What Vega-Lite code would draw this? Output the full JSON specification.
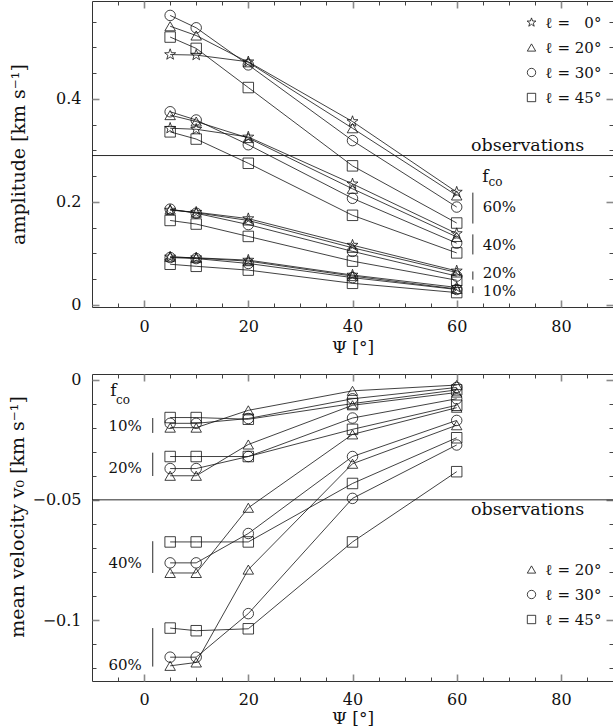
{
  "$schema": "https://vega.github.io/schema/vega-lite/v6.json",
  "background": "white",
  "padding": {"left": 8, "top": -1, "right": 0, "bottom": 0},
  "bounds": "flush",
  "spacing": 67,
  "config": {
    "font": "DejaVu Serif",
    "view": {"stroke": "#333", "strokeWidth": 1},
    "axis": {
      "labelFont": "DejaVu Serif",
      "titleFont": "DejaVu Serif",
      "titleFontWeight": "normal",
      "labelColor": "#111",
      "titleColor": "#111",
      "grid": false,
      "domain": false
    },
    "text": {"font": "DejaVu Serif", "color": "#111"},
    "legend": {"labelFont": "DejaVu Serif", "labelColor": "#111"}
  },
  "datasets": {
    "amp": [
      {"psi": 5, "incl": 0, "fco": 60, "amp": 0.486},
      {"psi": 10, "incl": 0, "fco": 60, "amp": 0.485},
      {"psi": 20, "incl": 0, "fco": 60, "amp": 0.472},
      {"psi": 40, "incl": 0, "fco": 60, "amp": 0.356},
      {"psi": 60, "incl": 0, "fco": 60, "amp": 0.219},
      {"psi": 5, "incl": 20, "fco": 60, "amp": 0.541},
      {"psi": 10, "incl": 20, "fco": 60, "amp": 0.523},
      {"psi": 20, "incl": 20, "fco": 60, "amp": 0.471},
      {"psi": 40, "incl": 20, "fco": 60, "amp": 0.343},
      {"psi": 60, "incl": 20, "fco": 60, "amp": 0.2125},
      {"psi": 5, "incl": 30, "fco": 60, "amp": 0.562},
      {"psi": 10, "incl": 30, "fco": 60, "amp": 0.538},
      {"psi": 20, "incl": 30, "fco": 60, "amp": 0.466},
      {"psi": 40, "incl": 30, "fco": 60, "amp": 0.319},
      {"psi": 60, "incl": 30, "fco": 60, "amp": 0.19},
      {"psi": 5, "incl": 45, "fco": 60, "amp": 0.52},
      {"psi": 10, "incl": 45, "fco": 60, "amp": 0.498},
      {"psi": 20, "incl": 45, "fco": 60, "amp": 0.422},
      {"psi": 40, "incl": 45, "fco": 60, "amp": 0.27},
      {"psi": 60, "incl": 45, "fco": 60, "amp": 0.159},

      {"psi": 5, "incl": 0, "fco": 40, "amp": 0.343},
      {"psi": 10, "incl": 0, "fco": 40, "amp": 0.341},
      {"psi": 20, "incl": 0, "fco": 40, "amp": 0.326},
      {"psi": 40, "incl": 0, "fco": 40, "amp": 0.235},
      {"psi": 60, "incl": 0, "fco": 40, "amp": 0.1385},
      {"psi": 5, "incl": 20, "fco": 40, "amp": 0.3685},
      {"psi": 10, "incl": 20, "fco": 40, "amp": 0.356},
      {"psi": 20, "incl": 20, "fco": 40, "amp": 0.324},
      {"psi": 40, "incl": 20, "fco": 40, "amp": 0.2255},
      {"psi": 60, "incl": 20, "fco": 40, "amp": 0.132},
      {"psi": 5, "incl": 30, "fco": 40, "amp": 0.375},
      {"psi": 10, "incl": 30, "fco": 40, "amp": 0.359},
      {"psi": 20, "incl": 30, "fco": 40, "amp": 0.311},
      {"psi": 40, "incl": 30, "fco": 40, "amp": 0.207},
      {"psi": 60, "incl": 30, "fco": 40, "amp": 0.12},
      {"psi": 5, "incl": 45, "fco": 40, "amp": 0.336},
      {"psi": 10, "incl": 45, "fco": 40, "amp": 0.322},
      {"psi": 20, "incl": 45, "fco": 40, "amp": 0.275},
      {"psi": 40, "incl": 45, "fco": 40, "amp": 0.174},
      {"psi": 60, "incl": 45, "fco": 40, "amp": 0.101},

      {"psi": 5, "incl": 0, "fco": 20, "amp": 0.184},
      {"psi": 10, "incl": 0, "fco": 20, "amp": 0.18},
      {"psi": 20, "incl": 0, "fco": 20, "amp": 0.1675},
      {"psi": 40, "incl": 0, "fco": 20, "amp": 0.116},
      {"psi": 60, "incl": 0, "fco": 20, "amp": 0.066},
      {"psi": 5, "incl": 20, "fco": 20, "amp": 0.185},
      {"psi": 10, "incl": 20, "fco": 20, "amp": 0.179},
      {"psi": 20, "incl": 20, "fco": 20, "amp": 0.164},
      {"psi": 40, "incl": 20, "fco": 20, "amp": 0.111},
      {"psi": 60, "incl": 20, "fco": 20, "amp": 0.063},
      {"psi": 5, "incl": 30, "fco": 20, "amp": 0.186},
      {"psi": 10, "incl": 30, "fco": 20, "amp": 0.178},
      {"psi": 20, "incl": 30, "fco": 20, "amp": 0.156},
      {"psi": 40, "incl": 30, "fco": 20, "amp": 0.104},
      {"psi": 60, "incl": 30, "fco": 20, "amp": 0.056},
      {"psi": 5, "incl": 45, "fco": 20, "amp": 0.164},
      {"psi": 10, "incl": 45, "fco": 20, "amp": 0.157},
      {"psi": 20, "incl": 45, "fco": 20, "amp": 0.133},
      {"psi": 40, "incl": 45, "fco": 20, "amp": 0.085},
      {"psi": 60, "incl": 45, "fco": 20, "amp": 0.048},

      {"psi": 5, "incl": 0, "fco": 10, "amp": 0.093},
      {"psi": 10, "incl": 0, "fco": 10, "amp": 0.0915},
      {"psi": 20, "incl": 0, "fco": 10, "amp": 0.087},
      {"psi": 40, "incl": 0, "fco": 10, "amp": 0.058},
      {"psi": 60, "incl": 0, "fco": 10, "amp": 0.034},
      {"psi": 5, "incl": 20, "fco": 10, "amp": 0.0935},
      {"psi": 10, "incl": 20, "fco": 10, "amp": 0.091},
      {"psi": 20, "incl": 20, "fco": 10, "amp": 0.085},
      {"psi": 40, "incl": 20, "fco": 10, "amp": 0.056},
      {"psi": 60, "incl": 20, "fco": 10, "amp": 0.031},
      {"psi": 5, "incl": 30, "fco": 10, "amp": 0.092},
      {"psi": 10, "incl": 30, "fco": 10, "amp": 0.09},
      {"psi": 20, "incl": 30, "fco": 10, "amp": 0.0805},
      {"psi": 40, "incl": 30, "fco": 10, "amp": 0.053},
      {"psi": 60, "incl": 30, "fco": 10, "amp": 0.03},
      {"psi": 5, "incl": 45, "fco": 10, "amp": 0.079},
      {"psi": 10, "incl": 45, "fco": 10, "amp": 0.075},
      {"psi": 20, "incl": 45, "fco": 10, "amp": 0.0676},
      {"psi": 40, "incl": 45, "fco": 10, "amp": 0.042},
      {"psi": 60, "incl": 45, "fco": 10, "amp": 0.024}
    ],
    "vel": [
      {"psi": 5, "incl": 20, "fco": 10, "v0": -0.02},
      {"psi": 10, "incl": 20, "fco": 10, "v0": -0.02},
      {"psi": 20, "incl": 20, "fco": 10, "v0": -0.0128},
      {"psi": 40, "incl": 20, "fco": 10, "v0": -0.0047},
      {"psi": 60, "incl": 20, "fco": 10, "v0": -0.0023},
      {"psi": 5, "incl": 30, "fco": 10, "v0": -0.0182},
      {"psi": 10, "incl": 30, "fco": 10, "v0": -0.0182},
      {"psi": 20, "incl": 30, "fco": 10, "v0": -0.0162},
      {"psi": 40, "incl": 30, "fco": 10, "v0": -0.008},
      {"psi": 60, "incl": 30, "fco": 10, "v0": -0.0033},
      {"psi": 5, "incl": 45, "fco": 10, "v0": -0.0158},
      {"psi": 10, "incl": 45, "fco": 10, "v0": -0.0158},
      {"psi": 20, "incl": 45, "fco": 10, "v0": -0.0165},
      {"psi": 40, "incl": 45, "fco": 10, "v0": -0.01},
      {"psi": 60, "incl": 45, "fco": 10, "v0": -0.0043},

      {"psi": 5, "incl": 20, "fco": 20, "v0": -0.04},
      {"psi": 10, "incl": 20, "fco": 20, "v0": -0.04},
      {"psi": 20, "incl": 20, "fco": 20, "v0": -0.027},
      {"psi": 40, "incl": 20, "fco": 20, "v0": -0.0107},
      {"psi": 60, "incl": 20, "fco": 20, "v0": -0.0054},
      {"psi": 5, "incl": 30, "fco": 20, "v0": -0.037},
      {"psi": 10, "incl": 30, "fco": 20, "v0": -0.037},
      {"psi": 20, "incl": 30, "fco": 20, "v0": -0.032},
      {"psi": 40, "incl": 30, "fco": 20, "v0": -0.016},
      {"psi": 60, "incl": 30, "fco": 20, "v0": -0.008},
      {"psi": 5, "incl": 45, "fco": 20, "v0": -0.032},
      {"psi": 10, "incl": 45, "fco": 20, "v0": -0.032},
      {"psi": 20, "incl": 45, "fco": 20, "v0": -0.032},
      {"psi": 40, "incl": 45, "fco": 20, "v0": -0.0207},
      {"psi": 60, "incl": 45, "fco": 20, "v0": -0.0107},

      {"psi": 5, "incl": 20, "fco": 40, "v0": -0.0804},
      {"psi": 10, "incl": 20, "fco": 40, "v0": -0.0804},
      {"psi": 20, "incl": 20, "fco": 40, "v0": -0.0533},
      {"psi": 40, "incl": 20, "fco": 40, "v0": -0.0228},
      {"psi": 60, "incl": 20, "fco": 40, "v0": -0.0117},
      {"psi": 5, "incl": 30, "fco": 40, "v0": -0.0762},
      {"psi": 10, "incl": 30, "fco": 40, "v0": -0.0762},
      {"psi": 20, "incl": 30, "fco": 40, "v0": -0.064},
      {"psi": 40, "incl": 30, "fco": 40, "v0": -0.032},
      {"psi": 60, "incl": 30, "fco": 40, "v0": -0.017},
      {"psi": 5, "incl": 45, "fco": 40, "v0": -0.0675},
      {"psi": 10, "incl": 45, "fco": 40, "v0": -0.0675},
      {"psi": 20, "incl": 45, "fco": 40, "v0": -0.0675},
      {"psi": 40, "incl": 45, "fco": 40, "v0": -0.0432},
      {"psi": 60, "incl": 45, "fco": 40, "v0": -0.0242},

      {"psi": 5, "incl": 20, "fco": 60, "v0": -0.119},
      {"psi": 10, "incl": 20, "fco": 60, "v0": -0.1176},
      {"psi": 20, "incl": 20, "fco": 60, "v0": -0.079},
      {"psi": 40, "incl": 20, "fco": 60, "v0": -0.035},
      {"psi": 60, "incl": 20, "fco": 60, "v0": -0.019},
      {"psi": 5, "incl": 30, "fco": 60, "v0": -0.1154},
      {"psi": 10, "incl": 30, "fco": 60, "v0": -0.1154},
      {"psi": 20, "incl": 30, "fco": 60, "v0": -0.0973},
      {"psi": 40, "incl": 30, "fco": 60, "v0": -0.0494},
      {"psi": 60, "incl": 30, "fco": 60, "v0": -0.0272},
      {"psi": 5, "incl": 45, "fco": 60, "v0": -0.1033},
      {"psi": 10, "incl": 45, "fco": 60, "v0": -0.1044},
      {"psi": 20, "incl": 45, "fco": 60, "v0": -0.1036},
      {"psi": 40, "incl": 45, "fco": 60, "v0": -0.0675},
      {"psi": 60, "incl": 45, "fco": 60, "v0": -0.0383}
    ],
    "ann_top": [
      {"x": 65, "y": 0.19, "label": "60%"},
      {"x": 65, "y": 0.116, "label": "40%"},
      {"x": 65, "y": 0.0615, "label": "20%"},
      {"x": 65, "y": 0.027, "label": "10%"}
    ],
    "bars_top": [
      {"x": 63.1, "y": 0.218, "y2": 0.158},
      {"x": 63.1, "y": 0.137, "y2": 0.098},
      {"x": 63.1, "y": 0.065, "y2": 0.049},
      {"x": 63.1, "y": 0.036, "y2": 0.023}
    ],
    "ann_bot": [
      {"x": -6.85, "y": -0.0193, "label": "10%"},
      {"x": -6.85, "y": -0.0367, "label": "20%"},
      {"x": -6.85, "y": -0.0763, "label": "40%"},
      {"x": -6.85, "y": -0.1186, "label": "60%"}
    ],
    "bars_bot": [
      {"x": 1.66, "y": -0.016, "y2": -0.0222},
      {"x": 1.66, "y": -0.0304, "y2": -0.0401},
      {"x": 1.66, "y": -0.0672, "y2": -0.0804},
      {"x": 1.66, "y": -0.1033, "y2": -0.1193}
    ]
  },
  "vconcat": [
    {
      "width": 521,
      "height": 306,
      "resolve": {"axis": {"x": "independent", "y": "independent"}},
      "layer": [
        {
          "data": {"name": "amp"},
          "mark": {"type": "line", "color": "#111", "strokeWidth": 0.8},
          "encoding": {
            "x": {"field": "psi", "type": "quantitative",
              "scale": {"domain": [-10, 90], "nice": false, "zero": false},
              "axis": {"orient": "bottom", "values": [0, 20, 40, 60, 80], "tickSize": -7, "tickColor": "#8a8a8a", "tickWidth": 1.6,
                "labelPadding": 18, "labelFontSize": 16, "title": "Ψ [°]", "titleFontSize": 17, "titleY": 45, "titleBaseline": "alphabetic"}},
            "y": {"field": "amp", "type": "quantitative",
              "scale": {"domain": [-0.004, 0.59], "nice": false, "zero": false},
              "axis": {"orient": "left", "values": [0, 0.2, 0.4], "format": "~g", "tickSize": -7, "tickColor": "#8a8a8a", "tickWidth": 1.6,
                "labelPadding": 18, "labelFontSize": 16, "title": "amplitude [km s⁻¹]", "titleFontSize": 19, "titleX": -73.5, "titleBaseline": "middle"}},
            "detail": [{"field": "incl"}, {"field": "fco"}]
          }
        },
        {
          "data": {"name": "amp"},
          "mark": {"type": "point", "filled": false, "color": "#111", "strokeWidth": 0.8, "size": 110, "opacity": 1},
          "encoding": {
            "x": {"field": "psi", "type": "quantitative",
              "axis": {"orient": "bottom", "values": [-5, 5, 10, 15, 25, 30, 35, 45, 50, 55, 65, 70, 75, 85], "tickSize": -4, "tickColor": "#444", "labels": false, "title": null}},
            "y": {"field": "amp", "type": "quantitative",
              "axis": {"orient": "left", "values": [0.05, 0.1, 0.15, 0.25, 0.3, 0.35, 0.45, 0.5, 0.55], "tickSize": -4, "tickColor": "#444", "labels": false, "title": null}},
            "shape": {"field": "incl", "type": "nominal",
              "scale": {"domain": [0, 20, 30, 45], "range": ["M0,-1.1L0.26,-0.36L1.05,-0.34L0.42,0.14L0.65,0.89L0,0.44L-0.65,0.89L-0.42,0.14L-1.05,-0.34L-0.26,-0.36Z", "triangle-up", "circle", "square"]},
              "legend": {"orient": "none", "legendX": 432, "legendY": 14, "title": null, "padding": 0,
                "labelExpr": "'ℓ = ' + (datum.label == '0' ? '\u2007' : '') + datum.label + '°'",
                "labelFontSize": 15, "labelOffset": 6.5, "rowPadding": 9,
                "symbolSize": 70, "symbolStrokeWidth": 0.8, "symbolStrokeColor": "#111", "symbolFillColor": "transparent"}}
          }
        },
        {
          "data": {"name": "ann_top"},
          "mark": {"type": "text", "align": "left", "baseline": "middle", "fontSize": 15},
          "encoding": {
            "x": {"field": "x", "type": "quantitative",
              "axis": {"orient": "top", "values": [0, 20, 40, 60, 80], "tickSize": -7, "tickColor": "#8a8a8a", "tickWidth": 1.6, "labels": false, "title": null}},
            "y": {"field": "y", "type": "quantitative",
              "axis": {"orient": "right", "values": [0, 0.2, 0.4], "tickSize": -7, "tickColor": "#8a8a8a", "tickWidth": 1.6, "labels": false, "title": null}},
            "text": {"field": "label"}
          }
        },
        {
          "data": {"name": "bars_top"},
          "mark": {"type": "rule", "color": "#111", "strokeWidth": 0.9},
          "encoding": {
            "x": {"field": "x", "type": "quantitative",
              "axis": {"orient": "top", "values": [-5, 5, 10, 15, 25, 30, 35, 45, 50, 55, 65, 70, 75, 85], "tickSize": -4, "tickColor": "#444", "labels": false, "title": null}},
            "y": {"field": "y", "type": "quantitative",
              "axis": {"orient": "right", "values": [0.05, 0.1, 0.15, 0.25, 0.3, 0.35, 0.45, 0.5, 0.55], "tickSize": -4, "tickColor": "#444", "labels": false, "title": null}},
            "y2": {"field": "y2"}
          }
        },
        {
          "data": {"values": [{}]},
          "mark": {"type": "rule", "color": "#111", "strokeWidth": 0.9},
          "encoding": {"y": {"datum": 0.29, "type": "quantitative", "axis": null}}
        },
        {
          "data": {"values": [{}]},
          "mark": {"type": "text", "align": "center", "baseline": "alphabetic", "fontSize": 17.5, "text": "observations"},
          "encoding": {
            "x": {"datum": 73.6, "type": "quantitative", "axis": null},
            "y": {"datum": 0.2995, "type": "quantitative", "axis": null}
          }
        },
        {
          "data": {"values": [{}]},
          "mark": {"type": "text", "align": "left", "baseline": "alphabetic", "fontSize": 17, "text": "f"},
          "encoding": {
            "x": {"datum": 64.9, "type": "quantitative", "axis": null},
            "y": {"datum": 0.2377, "type": "quantitative", "axis": null}
          }
        },
        {
          "data": {"values": [{}]},
          "mark": {"type": "text", "align": "left", "baseline": "alphabetic", "fontSize": 12, "text": "co"},
          "encoding": {
            "x": {"datum": 66.1, "type": "quantitative", "axis": null},
            "y": {"datum": 0.231, "type": "quantitative", "axis": null}
          }
        }
      ]
    },
    {
      "width": 521,
      "height": 307,
      "resolve": {"axis": {"x": "independent", "y": "independent"}},
      "layer": [
        {
          "data": {"name": "vel"},
          "mark": {"type": "line", "color": "#111", "strokeWidth": 0.8},
          "encoding": {
            "x": {"field": "psi", "type": "quantitative",
              "scale": {"domain": [-10, 90], "nice": false, "zero": false},
              "axis": {"orient": "bottom", "values": [0, 20, 40, 60, 80], "tickSize": -7, "tickColor": "#8a8a8a", "tickWidth": 1.6,
                "labelPadding": 17, "labelFontSize": 16, "title": "Ψ [°]", "titleFontSize": 17, "titleY": 42, "titleBaseline": "alphabetic"}},
            "y": {"field": "v0", "type": "quantitative",
              "scale": {"domain": [-0.1253, 0.0023], "nice": false, "zero": false},
              "axis": {"orient": "left", "values": [0, -0.05, -0.1], "format": "~g", "tickSize": -7, "tickColor": "#8a8a8a", "tickWidth": 1.6,
                "labelPadding": 18, "labelFontSize": 16, "title": "mean velocity v₀ [km s⁻¹]", "titleFontSize": 19, "titleX": -74.5, "titleY": 142.5, "titleBaseline": "middle"}},
            "detail": [{"field": "incl"}, {"field": "fco"}]
          }
        },
        {
          "data": {"name": "vel"},
          "mark": {"type": "point", "filled": false, "color": "#111", "strokeWidth": 0.8, "size": 110, "opacity": 1},
          "encoding": {
            "x": {"field": "psi", "type": "quantitative",
              "axis": {"orient": "bottom", "values": [-5, 5, 10, 15, 25, 30, 35, 45, 50, 55, 65, 70, 75, 85], "tickSize": -4, "tickColor": "#444", "labels": false, "title": null}},
            "y": {"field": "v0", "type": "quantitative",
              "axis": {"orient": "left", "values": [-0.01, -0.02, -0.03, -0.04, -0.06, -0.07, -0.08, -0.09, -0.11, -0.12], "tickSize": -4, "tickColor": "#444", "labels": false, "title": null}},
            "shape": {"field": "incl", "type": "nominal",
              "scale": {"domain": [20, 30, 45], "range": ["triangle-up", "circle", "square"]},
              "legend": {"orient": "none", "legendX": 432, "legendY": 188, "title": null, "padding": 0,
                "labelExpr": "'ℓ = ' + datum.label + '°'",
                "labelFontSize": 15, "labelOffset": 6.5, "rowPadding": 9,
                "symbolSize": 70, "symbolStrokeWidth": 0.8, "symbolStrokeColor": "#111", "symbolFillColor": "transparent"}}
          }
        },
        {
          "data": {"name": "ann_bot"},
          "mark": {"type": "text", "align": "left", "baseline": "middle", "fontSize": 15},
          "encoding": {
            "x": {"field": "x", "type": "quantitative",
              "axis": {"orient": "top", "values": [0, 20, 40, 60, 80], "tickSize": -7, "tickColor": "#8a8a8a", "tickWidth": 1.6, "labels": false, "title": null}},
            "y": {"field": "y", "type": "quantitative",
              "axis": {"orient": "right", "values": [0, -0.05, -0.1], "tickSize": -7, "tickColor": "#8a8a8a", "tickWidth": 1.6, "labels": false, "title": null}},
            "text": {"field": "label"}
          }
        },
        {
          "data": {"name": "bars_bot"},
          "mark": {"type": "rule", "color": "#111", "strokeWidth": 0.9},
          "encoding": {
            "x": {"field": "x", "type": "quantitative",
              "axis": {"orient": "top", "values": [-5, 5, 10, 15, 25, 30, 35, 45, 50, 55, 65, 70, 75, 85], "tickSize": -4, "tickColor": "#444", "labels": false, "title": null}},
            "y": {"field": "y", "type": "quantitative",
              "axis": {"orient": "right", "values": [-0.01, -0.02, -0.03, -0.04, -0.06, -0.07, -0.08, -0.09, -0.11, -0.12], "tickSize": -4, "tickColor": "#444", "labels": false, "title": null}},
            "y2": {"field": "y2"}
          }
        },
        {
          "data": {"values": [{}]},
          "mark": {"type": "rule", "color": "#111", "strokeWidth": 0.9},
          "encoding": {"y": {"datum": -0.05, "type": "quantitative", "axis": null}}
        },
        {
          "data": {"values": [{}]},
          "mark": {"type": "text", "align": "center", "baseline": "alphabetic", "fontSize": 17.5, "text": "observations"},
          "encoding": {
            "x": {"datum": 73.6, "type": "quantitative", "axis": null},
            "y": {"datum": -0.0564, "type": "quantitative", "axis": null}
          }
        },
        {
          "data": {"values": [{}]},
          "mark": {"type": "text", "align": "left", "baseline": "alphabetic", "fontSize": 17, "text": "f"},
          "encoding": {
            "x": {"datum": -6.5, "type": "quantitative", "axis": null},
            "y": {"datum": -0.0068, "type": "quantitative", "axis": null}
          }
        },
        {
          "data": {"values": [{}]},
          "mark": {"type": "text", "align": "left", "baseline": "alphabetic", "fontSize": 12, "text": "co"},
          "encoding": {
            "x": {"datum": -5.4, "type": "quantitative", "axis": null},
            "y": {"datum": -0.0101, "type": "quantitative", "axis": null}
          }
        }
      ]
    }
  ],
  "resolve": {"scale": {"shape": "independent", "x": "independent", "y": "independent"}}
}
